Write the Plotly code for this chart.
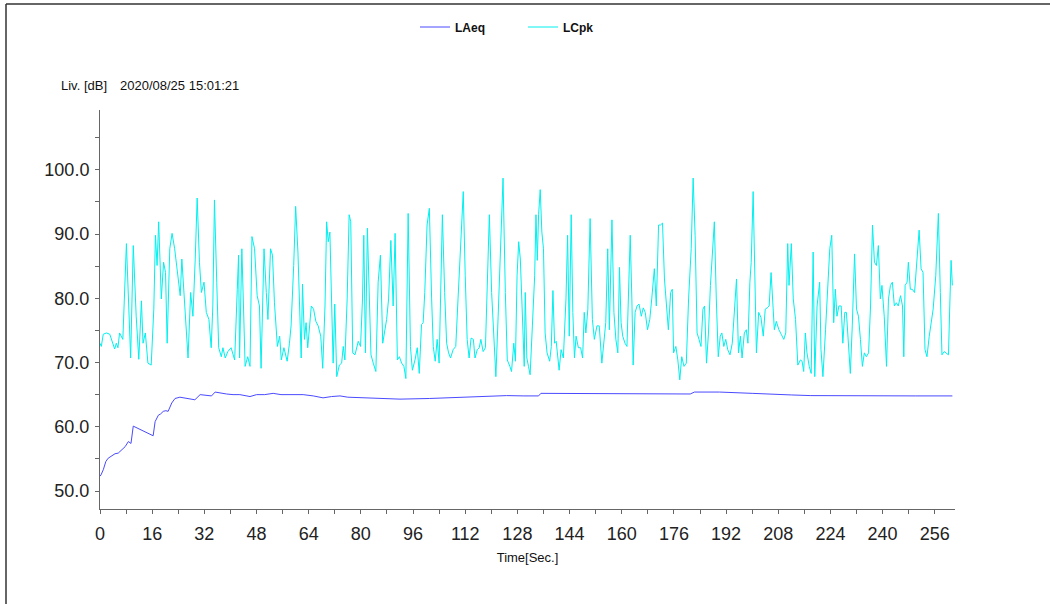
import plotly.graph_objects as go

# ---- data ----
lcpk_t = [0.0,0.4,1.0,2.0,3.0,3.5,4.5,5.0,5.5,6.0,7.0,8.1,8.7,9.4,10.2,11.1,11.9,12.7,13.2,13.9,14.7,15.7,16.5,17.0,17.5,18.0,18.8,19.5,20.1,20.6,21.4,22.1,22.9,23.9,24.6,25.1,25.7,26.5,27.0,27.8,28.5,29.2,29.8,30.5,31.1,31.9,32.6,33.4,34.1,34.6,35.1,35.8,36.4,37.2,37.7,38.4,39.2,40.2,41.3,42.1,42.5,42.8,43.5,44.0,44.5,45.3,46.0,46.6,47.4,48.2,48.9,49.4,50.3,51.0,51.5,52.3,52.9,53.5,54.4,55.1,55.6,56.4,57.4,58.1,58.6,59.4,60.0,60.7,61.3,61.7,62.1,62.7,63.2,63.7,64.8,
          65.5,66.2,66.9,67.7,68.3,69.0,69.5,70.0,70.5,71.0,71.5,72.0,72.6,73.4,74.1,74.6,75.1,75.8,76.4,76.9,77.5,78.2,78.7,79.2,79.9,80.5,80.9,81.4,82.0,82.6,83.1,83.8,84.6,85.3,86.0,86.7,87.3,87.9,88.5,89.2,89.9,90.5,91.2,91.8,92.5,93.2,93.8,94.5,95.2,95.8,96.6,97.3,97.9,98.6,99.1,99.6,100.3,101.0,101.7,102.2,102.8,103.4,104.0,104.5,105.0,105.7,106.3,106.9,107.5,108.3,109.1,109.8,110.6,111.4,112.0,112.6,113.2,113.8,114.5,115.0,115.7,116.3,116.8,117.5,118.2,118.7,119.4,120.1,120.8,121.4,122.1,122.8,123.6,124.3,124.9,125.7,126.2,126.9,127.4,127.9,128.4,128.9,129.6,
          130.1,130.4,130.9,131.4,131.9,132.6,133.3,133.7,134.1,134.5,135.0,135.5,136.0,136.5,137.1,137.9,138.4,138.9,139.4,139.9,140.4,140.8,141.4,142.1,142.9,143.4,143.9,144.5,145.0,145.5,146.0,146.7,147.4,148.0,148.5,149.0,149.6,150.3,151.0,151.6,152.4,153.1,153.9,154.6,155.1,155.7,156.2,157.0,157.6,158.2,158.8,159.3,159.8,160.3,161.0,161.6,162.1,162.6,163.1,163.5,164.1,164.7,165.3,166.0,166.6,167.2,167.9,168.6,169.2,170.0,170.6,171.3,171.9,172.5,173.1,173.7,174.3,175.0,175.5,175.9,176.6,177.2,177.8,178.4,179.1,179.8,180.5,181.3,181.9,182.5,183.1,183.7,184.3,184.9,185.4,186.0,186.6,187.2,187.8,188.4,189.0,189.6,190.2,190.7,191.3,191.9,192.5,193.2,193.9,194.6,
          195.2,195.8,196.4,196.9,197.6,198.2,198.7,199.3,199.7,200.3,200.8,201.3,202.0,202.7,203.4,204.0,204.6,205.2,205.8,206.4,206.8,207.4,208.2,208.9,209.7,210.3,210.9,211.3,212.0,212.6,213.3,214.0,214.8,215.3,215.8,216.3,216.8,217.5,218.1,218.7,219.2,219.9,220.7,221.1,221.7,222.5,223.2,223.8,224.4,225.0,225.5,226.0,226.6,227.3,227.8,228.4,228.9,229.5,230.1,230.7,231.4,232.0,232.6,233.2,233.8,234.4,235.0,235.7,236.3,236.9,237.5,238.1,238.7,239.3,239.8,240.5,241.2,241.8,242.4,243.0,243.6,244.2,244.8,245.5,246.1,246.5,246.9,247.5,247.9,248.5,249.1,249.8,250.5,251.2,251.8,252.4,253.0,253.6,254.3,254.9,255.5,256.3,257.1,257.7,258.2,258.9,259.6,260.2,260.6,261.0,261.4]
lcpk_db = [73.0,72.5,74.4,74.6,74.4,73.6,72.1,73.0,72.3,74.6,73.6,88.5,79.9,70.7,88.2,77.2,70.5,79.6,73.0,74.6,69.9,69.6,78.3,89.8,85.1,91.9,79.9,85.6,84.0,73.0,87.7,90.1,87.7,83.5,80.4,86.1,81.4,75.1,70.7,80.9,77.2,86.1,95.6,85.6,80.9,82.5,77.8,76.7,72.3,78.8,95.3,82.5,72.3,70.9,72.3,70.7,71.7,72.3,70.4,81.4,86.7,70.7,87.7,78.8,69.4,70.9,69.4,89.6,87.7,80.4,78.8,69.1,87.7,80.9,76.7,87.7,86.7,79.3,72.5,74.1,70.4,72.3,70.2,73.0,75.7,85.1,94.3,87.2,76.7,70.7,82.2,73.6,76.2,72.3,78.8,
           78.3,76.4,75.7,74.1,69.1,78.8,91.9,88.8,90.3,79.9,69.9,79.1,67.8,69.6,69.9,72.5,70.4,79.9,93.0,91.9,71.5,71.2,72.3,73.3,72.5,79.9,89.8,71.5,90.9,79.9,71.2,69.9,68.6,82.5,86.7,73.0,75.1,76.7,79.9,89.0,78.8,90.1,70.4,70.9,69.9,69.4,67.5,93.2,72.5,68.8,70.4,72.3,68.3,75.9,76.2,80.9,91.4,94.0,79.9,72.5,70.2,73.6,69.9,79.9,93.0,80.9,73.0,71.5,70.7,72.0,72.5,79.9,87.7,96.6,83.5,73.6,70.7,73.8,73.6,70.7,72.0,72.3,73.6,71.7,72.3,82.0,93.0,80.9,72.5,67.8,77.2,87.7,98.7,80.9,70.4,69.4,68.6,73.0,70.2,83.5,88.8,86.1,75.7,
           69.4,80.9,70.7,69.4,68.1,75.7,83.5,93.0,85.9,93.0,96.9,90.3,87.7,74.6,71.5,70.2,72.5,81.2,73.0,73.3,70.4,68.8,72.0,70.7,79.9,89.8,74.1,93.0,77.8,70.7,74.1,72.3,72.3,70.7,77.8,74.6,78.3,92.4,76.7,73.6,75.7,75.7,69.9,73.6,76.2,87.7,75.1,92.2,77.8,73.6,71.5,84.8,76.2,74.1,73.0,72.5,79.9,89.8,79.9,69.6,77.8,78.8,79.1,77.2,78.5,77.8,75.1,76.7,79.9,84.6,78.8,91.4,91.4,91.7,83.0,79.3,75.1,80.9,81.4,71.5,72.5,70.4,67.3,70.9,69.4,69.9,79.9,87.7,98.7,89.8,74.6,73.6,72.5,78.3,78.8,69.9,74.6,82.0,87.7,91.9,79.9,70.9,74.1,74.6,72.5,73.6,72.0,71.2,73.0,78.8,
           83.0,71.5,74.1,70.7,74.6,75.1,73.0,82.5,85.6,96.6,83.5,71.5,77.8,77.0,74.1,78.3,78.5,78.8,84.0,79.3,75.1,76.4,75.1,74.4,73.6,74.6,88.5,82.0,88.5,79.9,76.7,69.6,70.4,70.2,68.6,74.6,71.5,69.4,68.3,87.2,67.8,78.8,82.5,72.0,67.8,75.1,80.9,87.7,89.8,76.2,81.4,77.2,78.8,78.8,73.0,77.8,77.8,73.0,68.3,75.7,86.9,78.3,77.2,73.6,69.4,71.5,70.9,71.5,78.8,91.4,85.6,85.1,88.2,79.9,82.0,77.2,69.4,79.9,82.0,82.5,78.8,79.3,78.8,80.4,78.8,70.9,82.0,82.5,85.6,81.4,81.4,80.9,85.6,90.6,84.6,84.0,72.0,70.9,74.1,76.2,78.3,83.5,93.2,80.9,71.2,71.7,71.5,71.2,78.8,85.9,82.0]

laeq_t = [0.0,0.3,1.0,1.8,2.5,3.5,4.6,5.6,6.6,7.7,8.7,9.5,10.2,11.0,12.3,14.0,15.5,16.3,16.9,17.9,18.6,19.4,20.2,20.9,22.0,23.0,24.5,26.5,28.0,29.1,30.7,32.5,34.2,35.3,37.0,38.8,40.8,42.9,46.0,48.0,50.5,53.1,55.5,58.2,60.0,62.3,65.4,68.4,71.0,73.6,76.0,80.0,86.0,92.0,101.0,110.0,118.6,124.7,130.0,134.5,135.2,140.0,150.0,160.0,170.0,181.0,182.3,190.0,200.0,207.5,212.0,218.0,230.0,240.0,250.0,261.4]
laeq_db = [52.3,52.5,53.3,54.6,55.1,55.4,55.8,55.9,56.4,56.9,57.7,57.4,60.1,59.9,59.6,59.2,58.8,58.6,60.8,61.8,62.0,62.4,62.5,62.4,63.7,64.4,64.6,64.4,64.3,64.2,65.0,64.9,64.8,65.4,65.2,65.1,65.0,65.0,64.7,65.0,65.0,65.2,65.0,65.0,64.9,65.0,64.8,64.5,64.7,64.8,64.6,64.5,64.4,64.3,64.4,64.6,64.7,64.85,64.8,64.8,65.2,65.2,65.1,65.1,65.1,65.1,65.4,65.4,65.2,65.0,64.95,64.85,64.8,64.8,64.8,64.8]

x_ticks = list(range(0, 257, 16))
y_ticks = [50, 60, 70, 80, 90, 100]

SANS = "Liberation Sans, Arial, sans-serif"
AXIS_COLOR = "#666666"

fig = go.Figure()
fig.add_trace(go.Scatter(x=laeq_t, y=laeq_db, mode="lines", name="LAeq",
                         line=dict(color="#4a4aff", width=1)))
fig.add_trace(go.Scatter(x=lcpk_t, y=lcpk_db, mode="lines", name="LCpk",
                         line=dict(color="#00f0f0", width=1)))

fig.update_layout(
    width=1050, height=604,
    margin=dict(l=100, r=95, t=110, b=95),
    paper_bgcolor="white", plot_bgcolor="white",
    showlegend=True,
    legend=dict(orientation="h", x=(415 - 100) / 855, xanchor="left",
                y=(509 - 27) / 399, yanchor="middle",
                font=dict(family=SANS, size=12, color="#111111", weight="bold"),
                entrywidth=63, entrywidthmode="pixels",
                bgcolor="rgba(0,0,0,0)"),
    xaxis=dict(range=[0, 262.2], tickvals=x_ticks, ticktext=[str(v) for v in x_ticks],
               showline=True, linecolor=AXIS_COLOR, linewidth=1,
               ticks="outside", ticklen=4, tickcolor=AXIS_COLOR,
               minor=dict(dtick=8, ticks="outside", ticklen=4, tickcolor=AXIS_COLOR, showgrid=False),
               showgrid=False, zeroline=False,
               tickfont=dict(family=SANS, size=18, color="#222222"),
               ticklabelstandoff=4,
               title=dict(text="Time[Sec.]", font=dict(family=SANS, size=13, color="#111111"),
                          standoff=10)),
    yaxis=dict(range=[47.2, 109.3], tickvals=y_ticks, tickformat=".1f",
               showline=True, linecolor=AXIS_COLOR, linewidth=1,
               ticks="outside", ticklen=4, tickcolor=AXIS_COLOR,
               minor=dict(dtick=5, ticks="outside", ticklen=4, tickcolor=AXIS_COLOR, showgrid=False),
               showgrid=False, zeroline=False,
               tickfont=dict(family=SANS, size=18, color="#222222"),
               ticklabelstandoff=2),
)

fig.add_annotation(text="Liv. [dB]", xref="paper", yref="paper",
                   x=(59 - 100) / 855, y=(509 - 85) / 399, xanchor="left", yanchor="middle",
                   showarrow=False, font=dict(family=SANS, size=13, color="#111111"))
fig.add_annotation(text="2020/08/25 15:01:21", xref="paper", yref="paper",
                   x=(118 - 100) / 855, y=(509 - 85) / 399, xanchor="left", yanchor="middle",
                   showarrow=False, font=dict(family=SANS, size=13, color="#111111"))

# outer frame (top and left edges visible in the reference)
fig.add_shape(type="line", xref="paper", yref="paper",
              x0=(6 - 100) / 855, x1=(1050 - 100) / 855,
              y0=(509 - 4) / 399, y1=(509 - 4) / 399,
              line=dict(color="#333333", width=1.5))
fig.add_shape(type="line", xref="paper", yref="paper",
              x0=(6 - 100) / 855, x1=(6 - 100) / 855,
              y0=(509 - 4) / 399, y1=(509 - 604) / 399,
              line=dict(color="#333333", width=1.5))

fig.write_html("out.html")
